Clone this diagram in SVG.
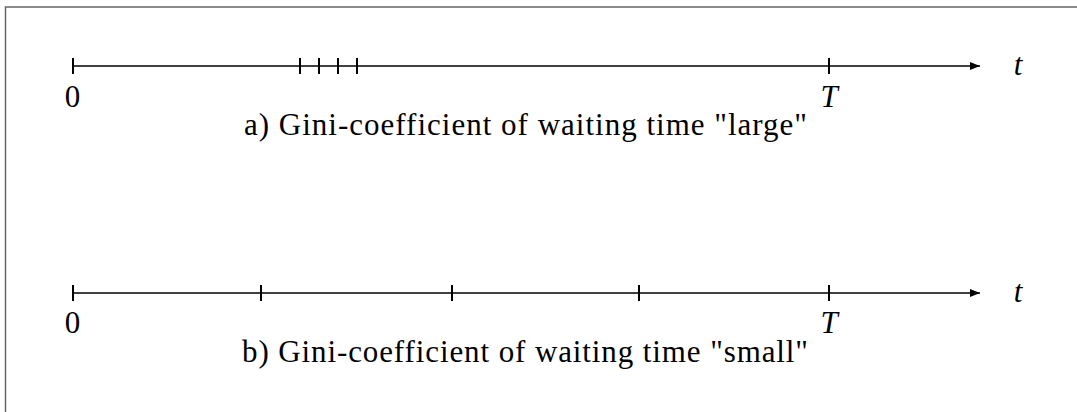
<svg xmlns="http://www.w3.org/2000/svg" width="1077" height="412" viewBox="0 0 1077 412">
<style>
.ax{stroke:#000;stroke-width:1.3;fill:none}
.tk{stroke:#000;stroke-width:2;fill:none}
.m{font-family:"Liberation Serif",serif;font-style:italic;font-size:31px;fill:#000}
.n{font-family:"Liberation Serif",serif;font-size:31px;fill:#000}
.cap{font-family:"Liberation Serif",serif;font-size:31px;fill:#000}
</style>
<defs>
<marker id="ah" markerWidth="10" markerHeight="8" refX="10" refY="4" orient="auto" markerUnits="userSpaceOnUse">
<path d="M0,0 L10,4 L0,8 Z" fill="#000"/>
</marker>
</defs>
<rect width="1077" height="412" fill="#fff"/>
<path d="M1077,7 H5.5 V412" stroke="#666" stroke-width="1.5" fill="none"/>
<g id="connectors">
<line class="ax" x1="73" y1="66" x2="980" y2="66" marker-end="url(#ah)"/>
<line class="ax" x1="73" y1="293" x2="980" y2="293" marker-end="url(#ah)"/>
</g>
<g id="axis-a">
<path class="tk" d="M73,58V74M300,58V74M319,58V74M338,58V74M357,58V74M829,58V74"/>
<text class="n" x="72.5" y="107" text-anchor="middle">0</text>
<text class="m" x="829" y="107" text-anchor="middle">T</text>
<text class="m" x="1018" y="75" text-anchor="middle">t</text>
<text class="cap" x="244" y="135" textLength="563" lengthAdjust="spacing">a) Gini-coefficient of waiting time "large"</text>
</g>
<g id="axis-b">
<path class="tk" d="M73,285V301M261,285V301M452,285V301M639,285V301M829,285V301"/>
<text class="n" x="72.5" y="333" text-anchor="middle">0</text>
<text class="m" x="829" y="333" text-anchor="middle">T</text>
<text class="m" x="1018" y="302" text-anchor="middle">t</text>
<text class="cap" x="242" y="362" textLength="566" lengthAdjust="spacing">b) Gini-coefficient of waiting time "small"</text>
</g>
</svg>
